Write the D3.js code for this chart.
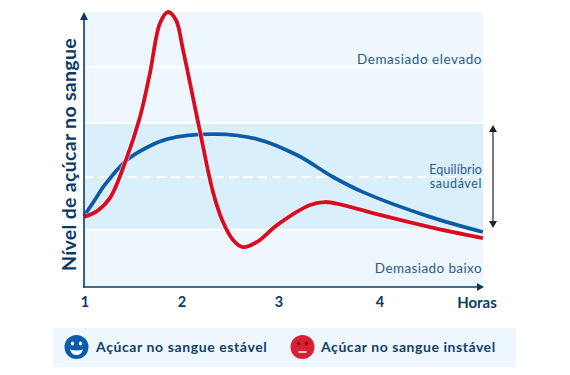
<!DOCTYPE html>
<html><head><meta charset="utf-8">
<script src="https://cdn.jsdelivr.net/npm/d3@7/dist/d3.min.js"></script>
<style>html,body{margin:0;padding:0;background:#fff}svg{display:block}text{font-family:Lato,"Open Sans",sans-serif}</style>
</head><body><svg id="c" width="570" height="375"></svg>
<script>
const hourTicks=[1,2,3,4];
const hoursLabel="Horas";
const yTitle="Nível de açúcar no sangue";
const zoneLevels=[0,20.8,59.6,80,100];
const midLevel=40;
const stableHours=[1,1.103,1.216,1.443,1.619,1.856,2.351,2.784,3.188,3.545,3.842,4.52,5.06];
const stableLevels=[25.8,31.2,37.2,46.2,50.2,53.8,55.6,53.8,48,40,34.5,25.5,20];
const unstableHours=[1,1.134,1.268,1.433,1.577,1.68,1.784,1.866,1.948,2.021,2.186,2.33,2.433,2.536,2.639,2.784,2.99,3.317,3.465,3.644,4.01,4.52,5.06];
const unstableLevels=[25.5,27.6,32.4,46.2,61.8,77.8,96,100,97.1,86.2,58.2,34.5,23.6,17.1,14.5,16.4,22.5,29.8,30.9,29.8,26.2,21.8,17.8];
const legendLabels=["Açúcar no sangue estável","Açúcar no sangue instável"];

const navy="#0c3a66",blue="#0a5cab",red="#d80b20",pale="#eef7fe",band="#d9effc",labelC="#2a5d86";
const svg=d3.select("#c");
const x=d3.scaleLinear().domain([1,2,3,4,5]).range([84,181,278,379,477]);
const y=d3.scaleLinear().domain([0,100]).range([287,12]);
const xEnd=x(5.06);

// background zones
svg.append("rect").attr("x",84).attr("y",y(100)).attr("width",xEnd-84).attr("height",y(0)-y(100)).attr("fill",pale);
svg.append("rect").attr("x",84).attr("y",y(zoneLevels[2])).attr("width",xEnd-84).attr("height",y(zoneLevels[1])-y(zoneLevels[2])).attr("fill",band);
[zoneLevels[1],zoneLevels[2],zoneLevels[3]].forEach(v=>{
  svg.append("line").attr("x1",84).attr("x2",xEnd).attr("y1",y(v)).attr("y2",y(v)).attr("stroke","#fff").attr("stroke-width",2);
});
svg.append("line").attr("x1",84).attr("x2",xEnd).attr("y1",y(midLevel)).attr("y2",y(midLevel))
  .attr("stroke","#fff").attr("stroke-width",2).attr("stroke-dasharray","9 5.5");

// curves
const line=d3.line().x(d=>x(d[0])).y(d=>y(d[1])).curve(d3.curveCatmullRom.alpha(0.5));
const stable=stableHours.map((h,i)=>[h,stableLevels[i]]);
const unstable=unstableHours.map((h,i)=>[h,unstableLevels[i]]);
[[stable,blue],[unstable,red]].forEach(([d,c])=>{
  svg.append("path").attr("d",line(d)).attr("fill","none").attr("stroke","#fff").attr("stroke-opacity",.7).attr("stroke-width",5.2);
  svg.append("path").attr("d",line(d)).attr("fill","none").attr("stroke",c).attr("stroke-width",3.8).attr("stroke-linejoin","round");
});

// axes
svg.append("line").attr("x1",84).attr("x2",84).attr("y1",287.5).attr("y2",20).attr("stroke",navy).attr("stroke-width",1.6);
svg.append("path").attr("d","M84 12L88 20L80 20Z").attr("fill",navy);
svg.append("line").attr("x1",83).attr("x2",477).attr("y1",287).attr("y2",287).attr("stroke",navy).attr("stroke-width",1.6);
svg.append("path").attr("d","M484 287L477 283L477 291Z").attr("fill",navy);
const ax=svg.append("g").attr("transform","translate(0.5,287)")
  .call(d3.axisBottom(x).tickValues(hourTicks).tickSize(0).tickPadding(9.5).tickFormat(d3.format("d")));
ax.select(".domain").remove();
ax.selectAll("text").attr("font-size",14.5).attr("font-weight",700).attr("fill",navy).style("font-family","Lato,sans-serif");
svg.append("text").attr("x",477).attr("y",307.5).attr("text-anchor","middle").attr("font-size",15).attr("font-weight",700).attr("fill",navy).text(hoursLabel);
svg.append("text").attr("transform","translate(76,154.5) rotate(-90)").attr("text-anchor","middle")
  .attr("font-size",19.5).attr("font-weight",700).attr("letter-spacing",.3).attr("fill",navy).text(yTitle);

// zone labels
const zl=(t,yy,ls,fs)=>svg.append("text").attr("x",482).attr("y",yy).attr("text-anchor","end").attr("font-size",fs).attr("letter-spacing",ls).attr("fill",labelC).text(t);
zl("Demasiado elevado",64,.55,13.5);zl("Equilíbrio",174,.1,12.5);zl("saudável",188,.6,12.5);zl("Demasiado baixo",273,.4,13.5);

// range arrow
svg.append("line").attr("x1",493).attr("x2",493).attr("y1",130).attr("y2",222).attr("stroke","#222").attr("stroke-width",1.2);
svg.append("path").attr("d","M493 125L497 132L489 132Z").attr("fill","#222");
svg.append("path").attr("d","M493 228L497 221L489 221Z").attr("fill","#222");

// legend
svg.append("rect").attr("x",53).attr("y",328).attr("width",463).attr("height",39).attr("fill",pale);
function face(cx,c,happy){
  const g=svg.append("g").attr("transform",`translate(${cx},347)`);
  g.append("circle").attr("r",12).attr("fill",c);
  g.append("ellipse").attr("cx",-4).attr("cy",-3.5).attr("rx",1.6).attr("ry",2.1).attr("fill",happy?"#fff":"#7a0a14");
  g.append("ellipse").attr("cx",4).attr("cy",-3.5).attr("rx",1.6).attr("ry",2.1).attr("fill",happy?"#fff":"#7a0a14");
  if(happy) g.append("path").attr("d","M-6.5 2.5Q0 4.5 6.5 2.5Q5 8 0 8Q-5 8 -6.5 2.5Z").attr("fill","#fff");
  else g.append("path").attr("d","M-4 5H4").attr("fill","none").attr("stroke","#fff").attr("stroke-width",1.5);
}
face(76.5,blue,true);face(302.5,"#d81f33",false);
[[96,legendLabels[0],.6],[321,legendLabels[1],.55]].forEach(([px,t,ls])=>{
  svg.append("text").attr("x",px).attr("y",351.5).attr("font-size",14).attr("font-weight",700).attr("letter-spacing",ls).attr("fill","#123f68").text(t);
});
</script></body></html>
